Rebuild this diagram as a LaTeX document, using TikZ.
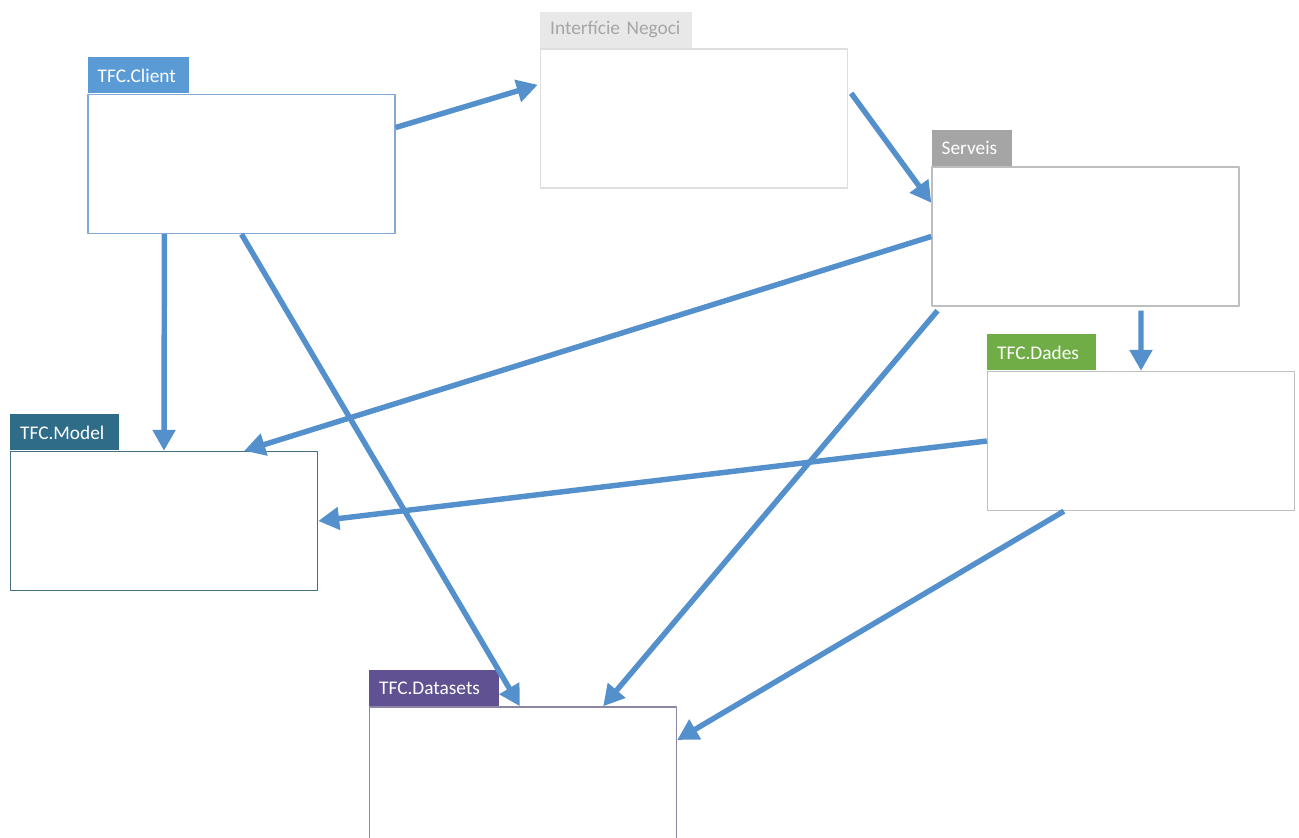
\documentclass[tikz,border=0pt]{standalone}
\usepackage{fontspec}
\setmainfont{Carlito}
\usetikzlibrary{arrows.meta,calc}
\definecolor{arrowblue}{RGB}{84,144,204}
\definecolor{clientblue}{RGB}{91,155,213}
\definecolor{clientedge}{RGB}{130,170,210}
\definecolor{negocigray}{RGB}{232,232,232}
\definecolor{negocitext}{RGB}{166,166,166}
\definecolor{negociedge}{RGB}{222,222,222}
\definecolor{serveisgray}{RGB}{165,165,165}
\definecolor{lightedge}{RGB}{190,190,190}
\definecolor{dadesgreen}{RGB}{112,173,71}
\definecolor{modelteal}{RGB}{46,108,136}
\definecolor{modeledge}{RGB}{70,110,130}
\definecolor{datapurple}{RGB}{96,82,146}
\definecolor{dataedge}{RGB}{140,135,165}
\begin{document}
\begin{tikzpicture}[x=0.02cm,y=-0.02cm,line join=round,font=\fontsize{11}{13}\selectfont,
	box/.style={draw,line width=0.8pt,fill=white,minimum width=6.14cm,minimum height=2.78cm,inner sep=0pt},
	tab/.style={anchor=south west,minimum height=0.72cm,inner xsep=0.2cm,inner ysep=0pt,align=left,text=white},
	link/.style={arrowblue,line width=3.1pt,-{Triangle[length=0.42cm,width=0.44cm]}}]
	\useasboundingbox (0,0) rectangle (1299,838);
	\clip (0,0) rectangle (1299,838);
	% boxes
	\node[box,draw=clientedge] (client) at (241.5,164) {};
	\node[box,draw=negociedge] (negoci) at (694,118.5) {};
	\node[box,draw=lightedge] (serveis) at (1085.5,236.5) {};
	\node[box,draw=lightedge] (dades) at (1141,441) {};
	\node[box,draw=modeledge] (model) at (164,521) {};
	\node[box,draw=dataedge] (datasets) at (523,776.5) {};
	% tabs
	\node[tab,fill=clientblue,text width=1.62cm] (clientlbl) at (client.north west) {TFC.Client};
	\node[tab,fill=negocigray,text=negocitext,text width=2.64cm] (negocilbl) at (negoci.north west) {Interfície Negoci};
	\node[tab,fill=serveisgray,text width=1.2cm] (serveislbl) at (serveis.north west) {Serveis};
	\node[tab,fill=dadesgreen,text width=1.78cm] (dadeslbl) at (dades.north west) {TFC.Dades};
	\node[tab,fill=modelteal,text width=1.78cm] (modellbl) at (model.north west) {TFC.Model};
	\node[tab,fill=datapurple,text width=2.2cm] (datasetslbl) at (datasets.north west) {TFC.Datasets};
	% connectors
	\draw[link] ($(client.north east)!0.24!(client.south east)$) -- ($(negoci.north west)!0.26!(negoci.south west)+(-2,0)$);
	\draw[link] ($(negoci.north east)!0.32!(negoci.south east)+(3,0)$) -- ($(serveis.north west)!0.26!(serveis.south west)$);
	\draw[link] ($(client.south west)!0.25!(client.south east)$) -- (model.north);
	\draw[link] (client.south) -- ($(datasets.north west)!0.49!(datasets.north east)$);
	\draw[link] (serveis.west) -- ($(model.north west)!0.76!(model.north east)$);
	\draw[link] ($(serveis.south west)!0.02!(serveis.south east)+(0,4)$) -- ($(datasets.north west)!0.76!(datasets.north east)$);
	\draw[link] ($(serveis.south west)!0.68!(serveis.south east)+(0,4)$) -- (dades.north);
	\draw[link] (dades.west) -- (model.east);
	\draw[link] ($(dades.south west)!0.25!(dades.south east)$) -- ($(datasets.north east)!0.24!(datasets.south east)$);
\end{tikzpicture}
\end{document}
